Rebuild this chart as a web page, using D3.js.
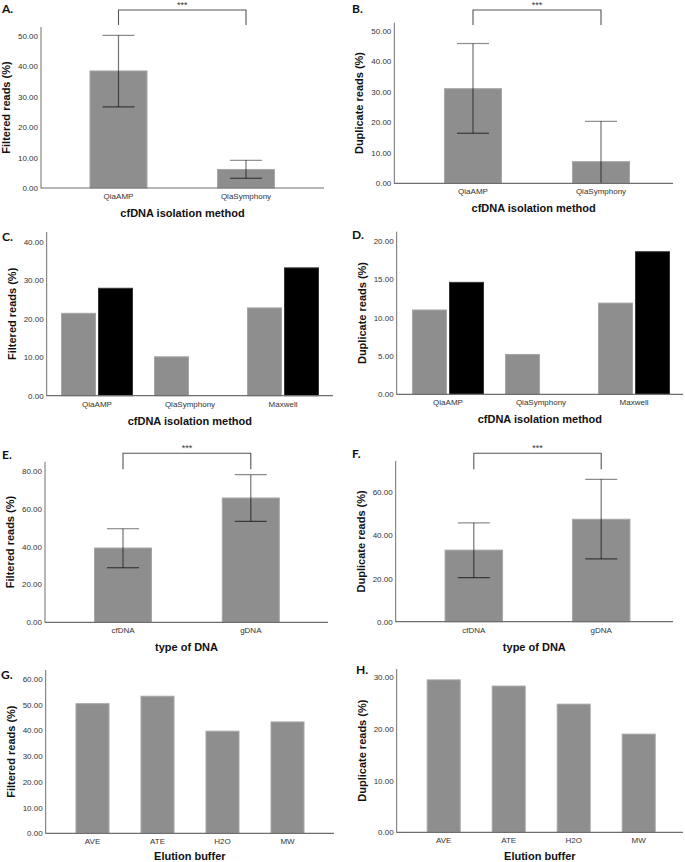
<!DOCTYPE html>
<html><head><meta charset="utf-8">
<script src="https://cdn.jsdelivr.net/npm/d3@7"></script>
<style>body{margin:0;background:#fff}svg{display:block}</style></head>
<body><svg id="c" width="685" height="862"></svg>
<script>
// ---------- data ----------
const isoCats2 = ["QiaAMP", "QiaSymphony"];
const filteredIso = [38.5, 6.1];
const filteredIsoLow = [26.7, 3.2];
const filteredIsoHigh = [50.2, 9.1];
const duplicateIso = [31.0, 7.1];
const duplicateIsoLow = [16.4, -6.1];
const duplicateIsoHigh = [45.8, 20.3];

const isoCats3 = ["QiaAMP", "QiaSymphony", "Maxwell"];
const groupSeries = ["grey", "black"];
const filteredIsoGrey = [21.4, 10.1, 22.8];
const filteredIsoBlack = [27.9, null, 33.2];
const duplicateIsoGrey = [11.0, 5.2, 11.9];
const duplicateIsoBlack = [14.6, null, 18.6];

const dnaCats = ["cfDNA", "gDNA"];
const filteredDna = [39.2, 65.6];
const filteredDnaLow = [28.8, 53.3];
const filteredDnaHigh = [49.4, 77.9];
const duplicateDna = [33.2, 47.5];
const duplicateDnaLow = [20.4, 29.1];
const duplicateDnaHigh = [45.8, 66.0];

const bufferCats = ["AVE", "ATE", "H2O", "MW"];
const filteredBuffer = [50.4, 53.3, 39.7, 43.3];
const duplicateBuffer = [29.5, 28.3, 24.8, 19.0];

const ticksA = [0, 10, 20, 30, 40, 50];
const ticksB = [0, 10, 20, 30, 40, 50];
const ticksC = [0, 10, 20, 30, 40];
const ticksD = [0, 5, 10, 15, 20];
const ticksE = [0, 20, 40, 60, 80];
const ticksF = [0, 20, 40, 60];
const ticksG = [0, 10, 20, 30, 40, 50, 60];
const ticksH = [0, 10, 20, 30];

const yFiltered = "Filtered reads (%)";
const yDuplicate = "Duplicate reads (%)";
const xIso = "cfDNA isolation method";
const xDna = "type of DNA";
const xBuffer = "Elution buffer";
const sigLabel = "***";

// ---------- layout ----------
const panels = [
  {letter:"A.", lx:2, ly:13, ax0:41, ax1:324, yBase:188, yTopPx:36, yTopVal:50, axisTop:27,
   c0:118.5, cN:246, barW:57, cats:isoCats2, values:filteredIso, low:filteredIsoLow, high:filteredIsoHigh,
   ticks:ticksA, yTitle:yFiltered, xTitle:xIso, xtOff:29, sig:{y:10, leg:25}},
  {letter:"B.", lx:352, ly:13, ax0:394.3, ax1:673, yBase:183.3, yTopPx:30.7, yTopVal:50, axisTop:22.7,
   c0:473, cN:601, barW:57, cats:isoCats2, values:duplicateIso, low:duplicateIsoLow, high:duplicateIsoHigh,
   ticks:ticksB, yTitle:yDuplicate, xTitle:xIso, xtOff:29, sig:{y:10, leg:25}},
  {letter:"C.", lx:2, ly:241, ax0:46.7, ax1:333, yBase:395.7, yTopPx:241.7, yTopVal:40, axisTop:232,
   c0:97, cN:283, groupW:71, barW:34, cats:isoCats3, groups:[filteredIsoGrey, filteredIsoBlack],
   ticks:ticksC, yTitle:yFiltered, xTitle:xIso, xtOff:29},
  {letter:"D.", lx:352, ly:239, ax0:396.7, ax1:683, yBase:394.3, yTopPx:241, yTopVal:20, axisTop:231.7,
   c0:448, cN:634, groupW:71, barW:34, cats:isoCats3, groups:[duplicateIsoGrey, duplicateIsoBlack],
   ticks:ticksD, yTitle:yDuplicate, xTitle:xIso, xtOff:29},
  {letter:"E.", lx:2, ly:459, ax0:45, ax1:328, yBase:622.3, yTopPx:470.7, yTopVal:80, axisTop:461.7,
   c0:123, cN:250.8, barW:57, cats:dnaCats, values:filteredDna, low:filteredDnaLow, high:filteredDnaHigh,
   ticks:ticksE, yTitle:yFiltered, xTitle:xDna, xtOff:29, sig:{y:453.3, leg:469.3}},
  {letter:"F.", lx:352, ly:458, ax0:395.7, ax1:673, yBase:621.7, yTopPx:492.3, yTopVal:60, axisTop:461,
   c0:473.8, cN:601.2, barW:57.5, cats:dnaCats, values:duplicateDna, low:duplicateDnaLow, high:duplicateDnaHigh,
   ticks:ticksF, yTitle:yDuplicate, xTitle:xDna, xtOff:29, sig:{y:453.3, leg:469.3}},
  {letter:"G.", lx:1, ly:679, ax0:45.7, ax1:334, yBase:833.3, yTopPx:679, yTopVal:60, axisTop:670,
   c0:92.5, cN:287.5, barW:33, cats:bufferCats, values:filteredBuffer,
   ticks:ticksG, yTitle:yFiltered, xTitle:xBuffer, xtOff:26.5},
  {letter:"H.", lx:356, ly:674, ax0:396.7, ax1:683, yBase:832.3, yTopPx:677.3, yTopVal:30, axisTop:669,
   c0:443.7, cN:638.7, barW:33, cats:bufferCats, values:duplicateBuffer,
   ticks:ticksH, yTitle:yDuplicate, xTitle:xBuffer, xtOff:27.5}
];

const FONT = "'Liberation Sans', Arial, sans-serif";
const GREY = "#8e8e8e", GREY_EDGE = "#a6a6a6", AXIS = "#6e6e6e";
const svg = d3.select("#c");
svg.append("rect").attr("width", 685).attr("height", 862).attr("fill", "#fff");

function drawPanel(p) {
  const g = svg.append("g");
  const y = d3.scaleLinear().domain([0, p.yTopVal]).range([p.yBase, p.yTopPx]);
  const n = p.cats.length;
  const step = (p.cN - p.c0) / (n - 1);
  const w = p.groupW || p.barW;
  const pi = 1 - w / step;
  const x = d3.scaleBand().domain(p.cats).range([p.c0 - step / 2, p.cN + step / 2])
    .paddingInner(pi).paddingOuter(pi / 2);
  const cx = c => x(c) + x.bandwidth() / 2;

  // bars
  if (p.groups) {
    const innerStep = (p.groupW + (p.groupW - 2 * p.barW)) / 2;
    const inner = d3.scaleBand().domain(groupSeries).range([0, x.bandwidth()]).paddingInner(1 - p.barW / innerStep);
    groupSeries.forEach((s, si) => {
      const vals = p.groups[si];
      p.cats.forEach((c, i) => {
        const v = vals[i];
        if (v == null) return;
        g.append("rect")
          .attr("x", x(c) + inner(s)).attr("width", inner.bandwidth())
          .attr("y", y(v)).attr("height", p.yBase - y(v))
          .attr("fill", s === "grey" ? GREY : "#000")
          .attr("stroke", s === "grey" ? GREY_EDGE : "#333").attr("stroke-width", 1);
      });
    });
  } else {
    p.cats.forEach((c, i) => {
      const v = p.values[i];
      g.append("rect")
        .attr("x", x(c)).attr("width", x.bandwidth())
        .attr("y", y(v)).attr("height", p.yBase - y(v))
        .attr("fill", GREY).attr("stroke", GREY_EDGE).attr("stroke-width", 1);
    });
  }

  // error bars
  if (p.low) {
    p.cats.forEach((c, i) => {
      const lo = Math.max(0, p.low[i]), hi = p.high[i];
      const xc = cx(c);
      g.append("line").attr("x1", xc).attr("x2", xc).attr("y1", y(lo)).attr("y2", y(hi))
        .attr("stroke", "#000").attr("stroke-opacity", 0.55).attr("stroke-width", 1.2);
      g.append("line").attr("x1", xc - 16).attr("x2", xc + 16).attr("y1", y(hi)).attr("y2", y(hi))
        .attr("stroke", "#000").attr("stroke-opacity", 0.45).attr("stroke-width", 1.2);
      if (p.low[i] > 0) {
        g.append("line").attr("x1", xc - 16).attr("x2", xc + 16).attr("y1", y(lo)).attr("y2", y(lo))
          .attr("stroke", "#000").attr("stroke-opacity", 0.6).attr("stroke-width", 1.2);
      }
    });
  }

  // y axis
  const ya = g.append("g").attr("transform", `translate(${p.ax0},0)`)
    .call(d3.axisLeft(y).tickValues(p.ticks).tickSize(0).tickPadding(3).tickFormat(d3.format(".2f")));
  ya.select(".domain").remove();
  ya.selectAll("text").attr("font-family", FONT).attr("font-size", 8).attr("fill", "#333");
  g.append("line").attr("x1", p.ax0).attr("x2", p.ax0).attr("y1", p.axisTop).attr("y2", p.yBase + 0.5)
    .attr("stroke", AXIS).attr("stroke-width", 1);

  // x axis
  const xa = g.append("g").attr("transform", `translate(0,${p.yBase})`)
    .call(d3.axisBottom(x).tickSize(0).tickPadding(5.3));
  xa.select(".domain").remove();
  xa.selectAll("text").attr("font-family", FONT).attr("font-size", 8).attr("fill", "#333");
  g.append("line").attr("x1", p.ax0).attr("x2", p.ax1).attr("y1", p.yBase).attr("y2", p.yBase)
    .attr("stroke", AXIS).attr("stroke-width", 1.2);

  // titles
  g.append("text").attr("x", (p.ax0 + p.ax1) / 2).attr("y", p.yBase + p.xtOff)
    .attr("text-anchor", "middle").attr("font-family", FONT).attr("font-weight", "bold")
    .attr("font-size", 11).attr("fill", "#111").text(p.xTitle);
  const ty = (p.axisTop + p.yBase) / 2, tx = p.ax0 - 35;
  g.append("text").attr("transform", `translate(${tx},${ty}) rotate(-90)`)
    .attr("text-anchor", "middle").attr("dy", "0.35em").attr("font-family", FONT).attr("font-weight", "bold")
    .attr("font-size", 11).attr("fill", "#111").text(p.yTitle);

  // panel letter
  g.append("text").attr("x", p.lx).attr("y", p.ly).attr("font-family", "Lato, 'Open Sans', sans-serif")
    .attr("font-weight", "bold").attr("font-size", 12).attr("fill", "#111").text(p.letter);

  // significance bracket
  if (p.sig) {
    const x0 = cx(p.cats[0]), x1 = cx(p.cats[1]);
    g.append("path").attr("d", `M${x0},${p.sig.leg}V${p.sig.y}H${x1}V${p.sig.leg}`)
      .attr("fill", "none").attr("stroke", "#555").attr("stroke-width", 1.1);
    g.append("text").attr("x", (x0 + x1) / 2).attr("y", p.sig.y - 2.5).attr("text-anchor", "middle")
      .attr("font-family", FONT).attr("font-size", 9).attr("fill", "#333").text(sigLabel);
  }
}
panels.forEach(drawPanel);
</script></body></html>
